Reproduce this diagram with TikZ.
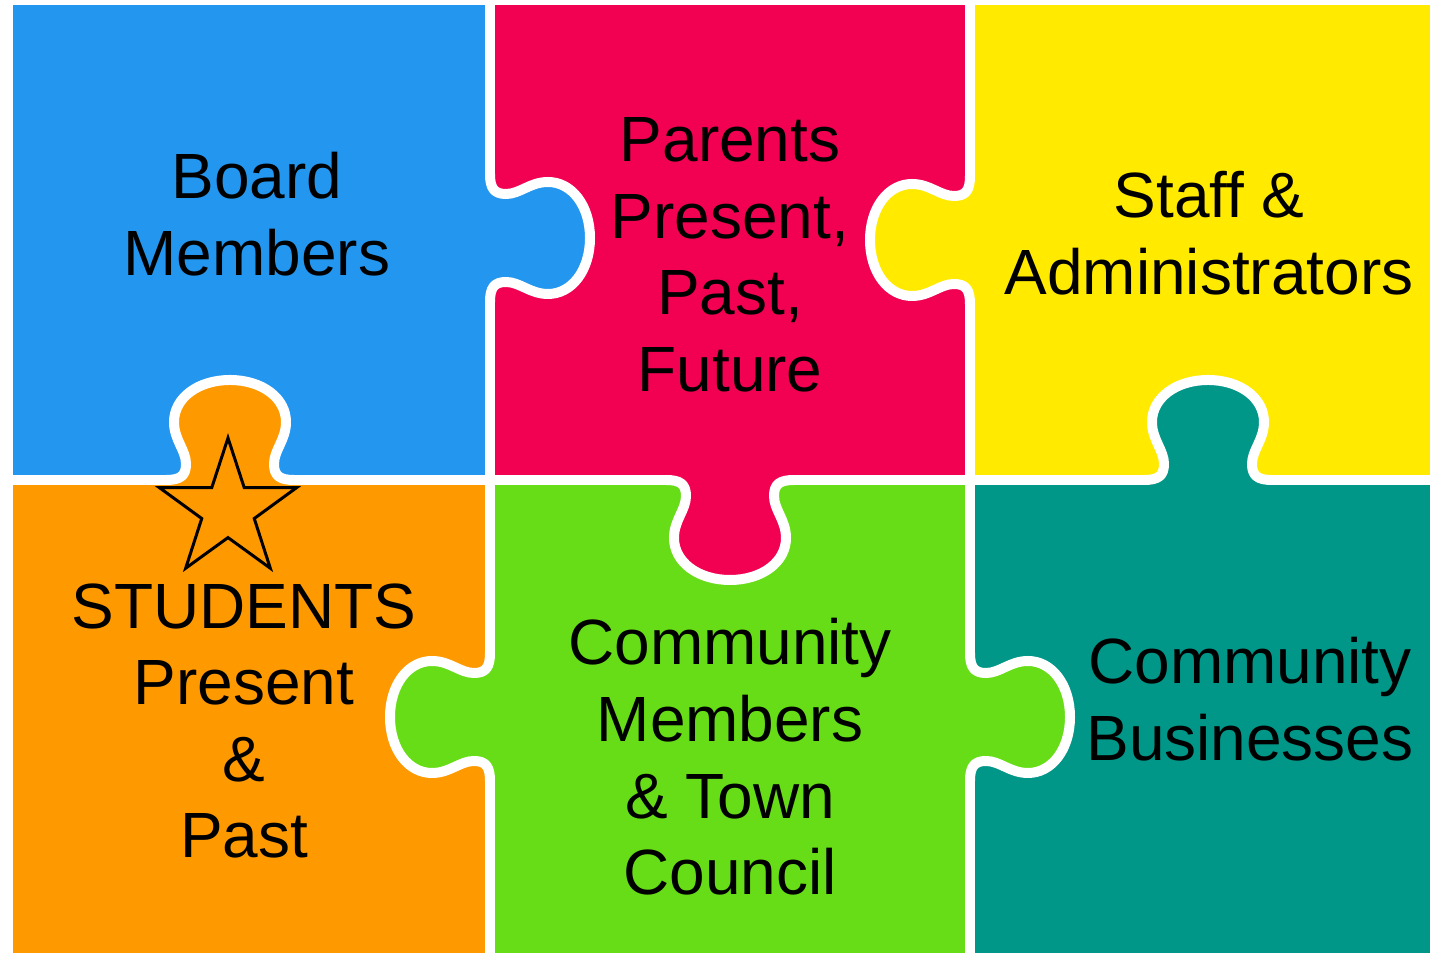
\documentclass[tikz,border=0pt]{standalone}
\usepackage{fontspec}
\setmainfont{Liberation Sans}
\usepackage{xcolor}
\usepackage{tikz}

\definecolor{boardblue}{HTML}{2396F0}
\definecolor{parentred}{HTML}{F20052}
\definecolor{staffyellow}{HTML}{FFEA00}
\definecolor{studentorange}{HTML}{FF9900}
\definecolor{membergreen}{HTML}{66DD16}
\definecolor{businessteal}{HTML}{009688}

\tikzset{
  seam/.style={white, line width=1mm, line cap=round, line join=round},
  starline/.style={black, line width=0.3mm, fill=studentorange, line join=miter},
  piecetext/.style={align=center, text=black, inner sep=0pt,
    font=\fontsize{18.2}{21.8}\selectfont},
}

\newcommand{\tabshape}{(-64,0) .. controls (-50,0) and (-44,4) .. (-44,16)
  .. controls (-44,30) and (-56,40) .. (-56,58)
  .. controls (-56,82) and (-32,100) .. (0,100)
  .. controls (32,100) and (56,82) .. (56,58)
  .. controls (56,40) and (44,30) .. (44,16)
  .. controls (44,4) and (50,0) .. (64,0)}

\newcommand{\puzzletab}[4]{%
  \begin{scope}[shift={(#1,#2)}, rotate=#3]
    \fill[#4] (-64,-8) -- \tabshape -- (64,-8) -- cycle;
    \draw[seam] \tabshape;
  \end{scope}}

\begin{document}
\begin{tikzpicture}[x=0.1mm, y=-0.1mm]
\fill[white] (0,0) rectangle (1430,953);
\useasboundingbox (0,0) rectangle (1430,953);
\foreach \xa/\ya/\xb/\yb/\col in {13/5/490/480/boardblue, 490/5/970/480/parentred,
    970/5/1430/480/staffyellow, 13/480/490/953/studentorange,
    490/480/970/953/membergreen, 970/480/1430/953/businessteal}
  \fill[\col] (\xa,\ya) rectangle (\xb,\yb);
\draw[seam] (490,0) -- (490,960);
\draw[seam] (970,0) -- (970,960);
\draw[seam] (13,480) -- (1440,480);
\foreach \x/\y/\a/\col in {490/238/90/boardblue, 970/240/-90/staffyellow,
    230/480/180/studentorange, 730/480/0/parentred, 1208/480/180/businessteal,
    490/717/-90/membergreen, 970/717/90/membergreen}
  {\puzzletab{\x}{\y}{\a}{\col}}
\begin{scope}[shift={(228,510)}]
\draw[starline] (270:72) \foreach \k in {1,...,9} { -- ({270+36*\k}:{mod(\k,2)==1 ? 27.6 : 72}) } -- cycle;
\end{scope}
\node[piecetext] (board) at (257,214) {Board\\Members};
\node[piecetext] (parents) at (730,255) {Parents\\Present,\\Past,\\Future};
\node[piecetext] (staff) at (1209,233) {Staff \&\\Administrators};
\node[piecetext] (students) at (244,721) {STUDENTS\\Present\\\&\\Past};
\node[piecetext] (members) at (730,757) {Community\\Members\\\& Town\\Council};
\node[piecetext] (business) at (1250,699) {Community\\Businesses};
\end{tikzpicture}
\end{document}
